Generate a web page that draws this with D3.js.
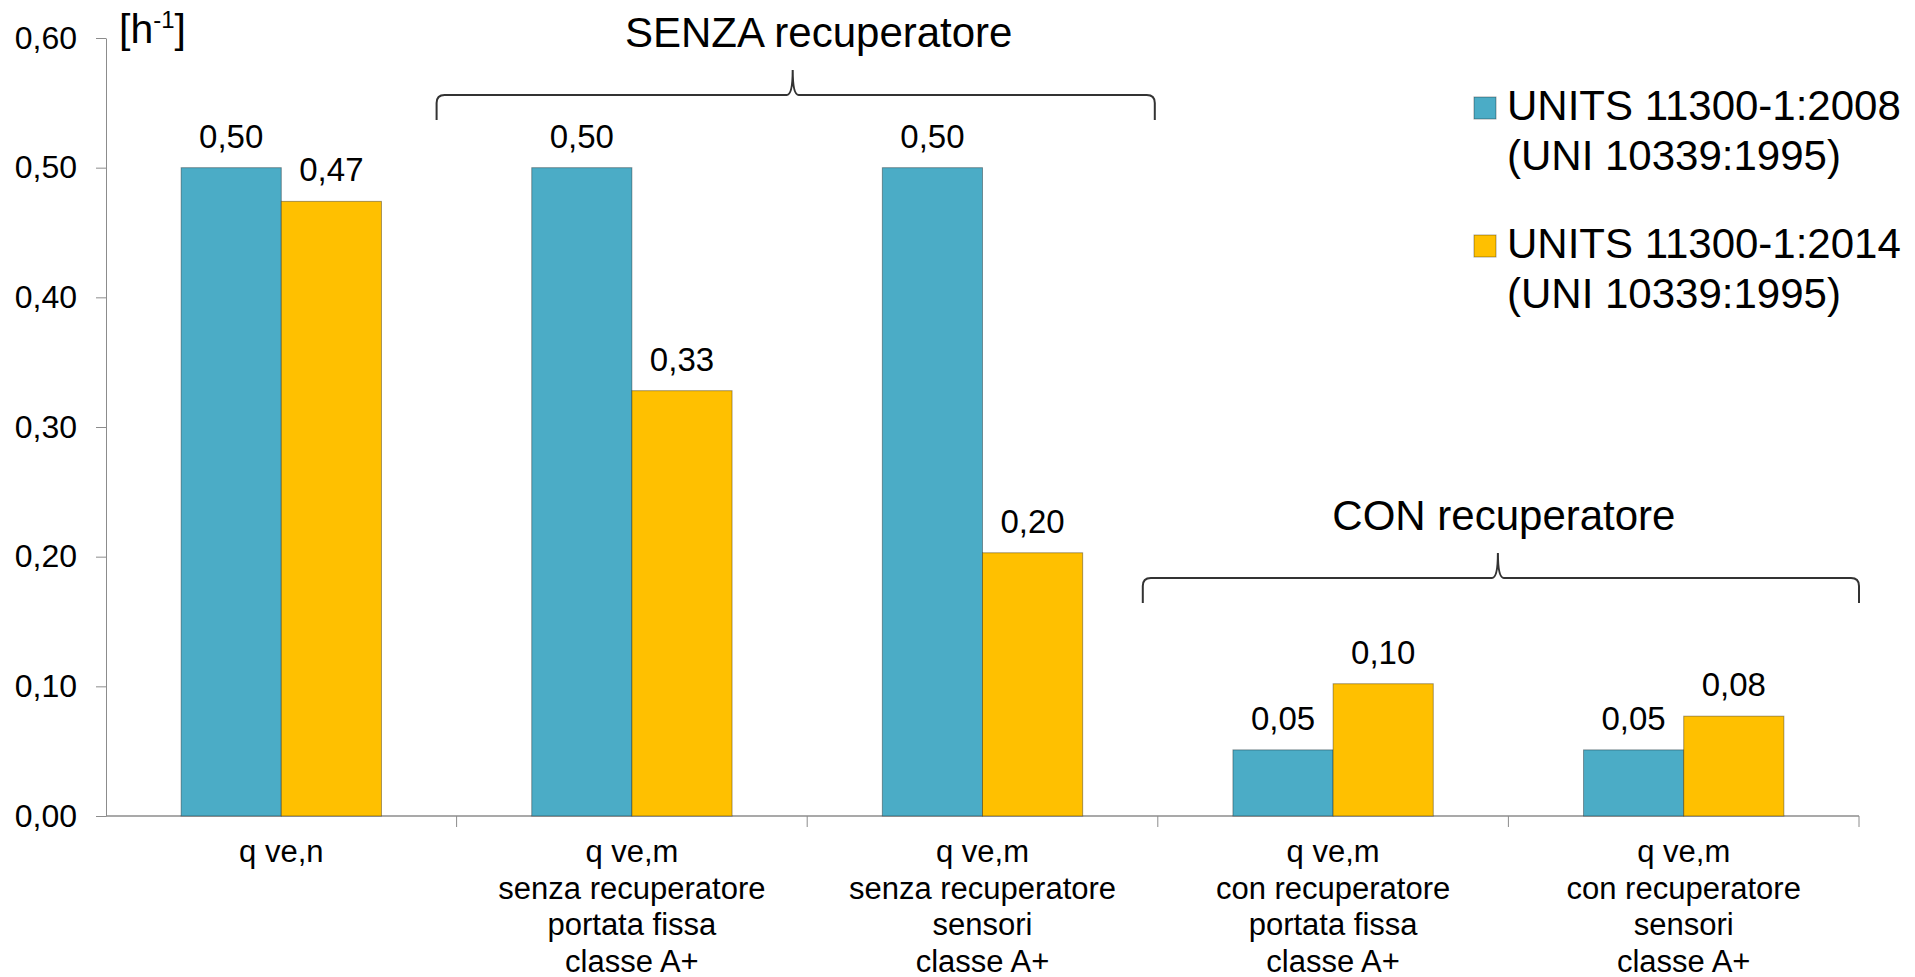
<!DOCTYPE html>
<html>
<head>
<meta charset="utf-8">
<script src="https://cdn.jsdelivr.net/npm/d3@7"></script>
<style>
  body { margin: 0; background: #fff; }
  text { font-family: "Liberation Sans", Arial, sans-serif; fill: #000; }
</style>
</head>
<body>
<script>
// data
var categories = [
  ["q ve,n"],
  ["q ve,m", "senza recuperatore", "portata fissa", "classe A+"],
  ["q ve,m", "senza recuperatore", "sensori", "classe A+"],
  ["q ve,m", "con recuperatore", "portata fissa", "classe A+"],
  ["q ve,m", "con recuperatore", "sensori", "classe A+"]
];
var seriesNames = [
  ["UNITS 11300-1:2008", "(UNI 10339:1995)"],
  ["UNITS 11300-1:2014", "(UNI 10339:1995)"]
];
var values2008 = [0.50, 0.50, 0.50, 0.051, 0.051];
var values2014 = [0.474, 0.328, 0.203, 0.102, 0.077];
var yTicks = [0, 0.1, 0.2, 0.3, 0.4, 0.5, 0.6];
var groups = [
  {label: "SENZA recuperatore", from: 1, to: 2},
  {label: "CON recuperatore", from: 3, to: 4}
];

var colors = ["#4BACC6", "#FFC000"];
var svgWidth = 1915, svgHeight = 977;

var svg = d3.select("body").append("svg")
    .attr("width", svgWidth).attr("height", svgHeight);

var idx = d3.range(categories.length);
var x0 = d3.scaleBand().domain(idx).range([106, 1859]).padding(0);
var x1 = d3.scaleBand().domain([0, 1]).range([0, x0.bandwidth()]).paddingInner(0).paddingOuter(0.75);
var y = d3.scaleLinear().domain([0, 0.6]).range([816, 38]);

var it = d3.formatLocale({decimal: ",", thousands: ".", grouping: [3], currency: ["", "€"]});
var fmt = it.format(".2f");

// y axis
var yAxis = d3.axisLeft(y).tickValues(yTicks).tickFormat(fmt).tickSize(10).tickSizeOuter(0).tickPadding(19);
var gy = svg.append("g").attr("transform", "translate(106,0)").call(yAxis);
gy.select(".domain").attr("stroke", "#8c8c8c");
gy.selectAll(".tick line").attr("stroke", "#8c8c8c");
gy.selectAll(".tick text").attr("font-size", 32).attr("font-family", "Liberation Sans, Arial, sans-serif").attr("fill", "#000");

var unit = svg.append("text").attr("x", 119).attr("y", 43).attr("font-size", 41);
unit.append("tspan").text("[h");
unit.append("tspan").attr("font-size", 24).attr("dy", -15).text("-1");
unit.append("tspan").attr("dy", 15).text("]");

// x axis line with boundary ticks
svg.append("line")
    .attr("x1", x0.range()[0]).attr("x2", x0.range()[1])
    .attr("y1", y(0)).attr("y2", y(0))
    .attr("stroke", "#8c8c8c").attr("stroke-width", 1.5);
svg.selectAll(".xtick").data(idx).enter().append("line")
    .attr("class", "xtick")
    .attr("x1", function(d) { return x0(d) + x0.bandwidth(); })
    .attr("x2", function(d) { return x0(d) + x0.bandwidth(); })
    .attr("y1", y(0)).attr("y2", y(0) + 11)
    .attr("stroke", "#8c8c8c");

// bars
var data = idx.map(function(i) { return [values2008[i], values2014[i]]; });
var cat = svg.selectAll(".cat").data(data).enter().append("g")
    .attr("class", "cat")
    .attr("transform", function(d, i) { return "translate(" + x0(i) + ",0)"; });

cat.selectAll("rect").data(function(d) { return d; }).enter().append("rect")
    .attr("x", function(d, j) { return x1(j); })
    .attr("y", function(d) { return y(d); })
    .attr("width", x1.bandwidth())
    .attr("height", function(d) { return y(0) - y(d); })
    .attr("fill", function(d, j) { return colors[j]; })
    .attr("stroke", "rgba(0,0,0,0.35)")
    .attr("stroke-width", 1);

cat.selectAll(".val").data(function(d) { return d; }).enter().append("text")
    .attr("class", "val")
    .attr("x", function(d, j) { return x1(j) + x1.bandwidth() / 2; })
    .attr("y", function(d) { return y(d) - 20; })
    .attr("text-anchor", "middle")
    .attr("font-size", 33)
    .text(fmt);

// category labels
svg.selectAll(".clabel").data(categories).enter().append("text")
    .attr("class", "clabel")
    .attr("text-anchor", "middle")
    .attr("font-size", 31)
    .attr("transform", function(d, i) { return "translate(" + (x0(i) + x0.bandwidth() / 2) + ",862)"; })
    .selectAll("tspan").data(function(d) { return d; }).enter().append("tspan")
    .attr("x", 0)
    .attr("y", function(d, k) { return k * 36.5; })
    .text(function(d) { return d; });

// group braces
var braceTop = {0: 95, 1: 578};
groups.forEach(function(g, gi) {
  var xa = gi === 0 ? x0(g.from) - 20 : x0(g.from) - 15;
  var xb = x0(g.to) + x0.bandwidth() - (gi === 0 ? 3 : 0);
  var xm = (xa + xb) / 2 - 3;
  var h = braceTop[gi];
  var p = d3.path();
  p.moveTo(xa, h + 25);
  p.lineTo(xa, h + 8);
  p.quadraticCurveTo(xa, h, xa + 8, h);
  p.lineTo(xm - 6, h);
  p.quadraticCurveTo(xm, h, xm, h - 25);
  p.quadraticCurveTo(xm, h, xm + 6, h);
  p.lineTo(xb - 8, h);
  p.quadraticCurveTo(xb, h, xb, h + 8);
  p.lineTo(xb, h + 25);
  svg.append("path").attr("d", p.toString())
      .attr("fill", "none").attr("stroke", "#333").attr("stroke-width", 2);
  svg.append("text")
      .attr("x", xm + (gi === 0 ? 26 : 6))
      .attr("y", h - 48)
      .attr("text-anchor", "middle")
      .attr("font-size", 42)
      .text(g.label);
});

// legend
var legend = svg.selectAll(".leg").data(seriesNames).enter().append("g")
    .attr("class", "leg")
    .attr("transform", function(d, i) { return "translate(1474," + (97 + i * 138) + ")"; });
legend.append("rect").attr("width", 22).attr("height", 22)
    .attr("fill", function(d, i) { return colors[i]; })
    .attr("stroke", "rgba(0,0,0,0.35)");
legend.append("text").attr("font-size", 42)
    .selectAll("tspan").data(function(d) { return d; }).enter().append("tspan")
    .attr("x", 33)
    .attr("y", function(d, k) { return 23 + k * 50; })
    .text(function(d) { return d; });
</script>
</body>
</html>
